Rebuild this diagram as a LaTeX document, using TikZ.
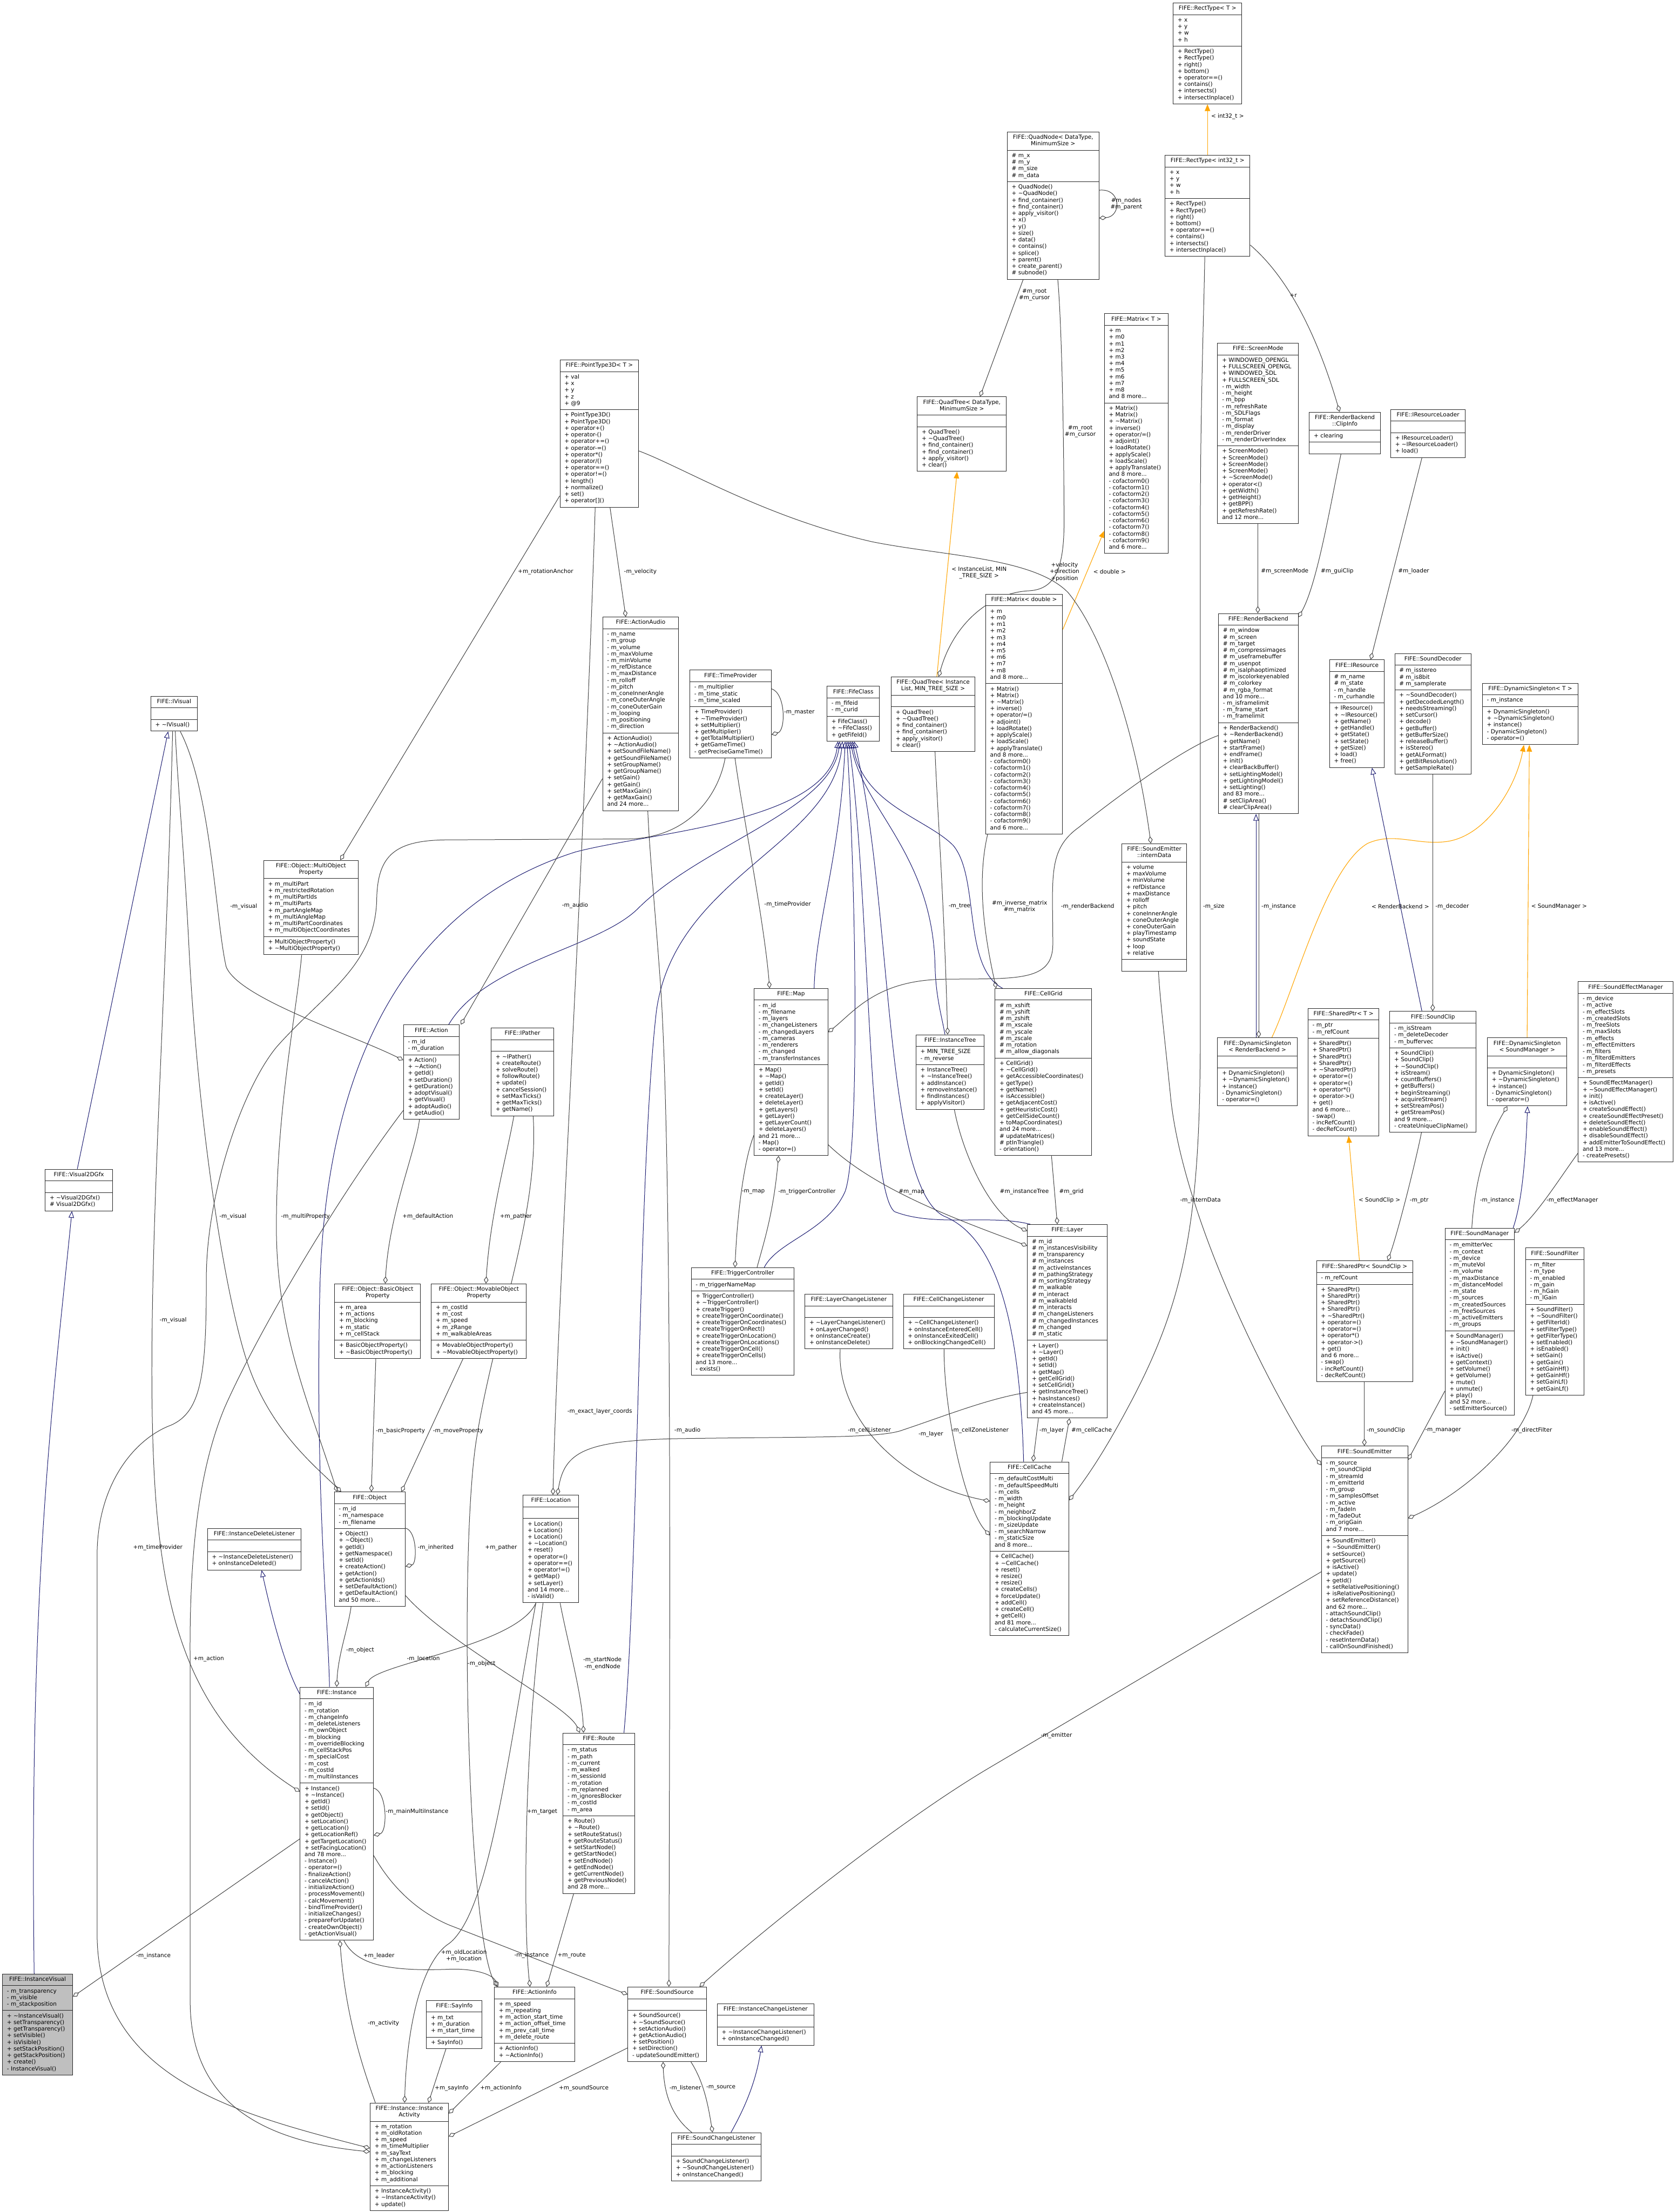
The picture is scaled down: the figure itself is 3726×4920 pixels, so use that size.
\documentclass[tikz,border=0pt]{standalone}
\usepackage{fontspec}
\setmainfont{DejaVu Sans}
\usetikzlibrary{shapes.multipart,arrows.meta}
\definecolor{egray}{HTML}{404040}
\definecolor{mblue}{HTML}{191970}
\definecolor{torange}{HTML}{FFA500}
\definecolor{ivfill}{HTML}{BFBFBF}
\setlength\parindent{0pt}
\newcommand\fs{\fontsize{12.6}{14.7}\selectfont}
\newcommand\dtor{\textasciitilde}
\newcommand\twol[2]{\begin{tabular}{@{}c@{}}#1\\#2\end{tabular}}
\pgfdeclarelayer{bg}
\pgfsetlayers{bg,main}
\tikzset{
  umlbox/.style={draw=black!85, line width=1.2pt, fill=white, rectangle split, rectangle split parts=3,
    rectangle split part align={center,left,left}, align=left, anchor=north west,
    inner xsep=10pt, inner ysep=5pt, font=\fs},
  memb/.style={draw=egray, line width=1.2pt, arrows={Diamond[open,length=16pt,width=10pt]-}},
  inh/.style={draw=mblue, line width=1.2pt, arrows={Triangle[open,length=15pt,width=12pt]-}},
  tmpl/.style={draw=torange, line width=1.3pt, arrows={Triangle[length=15pt,width=12pt]-}},
  lbl/.style={font=\fs, align=center, inner sep=0pt}
}
\newcommand\umlclass[8][]{\node[umlbox,#1,minimum width=#5pt] (#2) at (#3,#4) {\strut#6\strut\nodepart{two}\strut#7\strut\nodepart{three}\strut#8\strut};}
\begin{document}
\begin{tikzpicture}[x=1pt,y=-1pt]
\useasboundingbox (0,0) rectangle (3726,4920);
\begin{pgfonlayer}{bg}\fill[white] (0,0) rectangle (3726,4920);\end{pgfonlayer}

% ---------------- classes ----------------
\umlclass{rectT}{2609}{6}{153}{FIFE::RectType< T >}{+ x\\+ y\\+ w\\+ h}{+ RectType()\\+ RectType()\\+ right()\\+ bottom()\\+ operator==()\\+ contains()\\+ intersects()\\+ intersectInplace()}
\umlclass{rectI}{2591}{345}{189}{FIFE::RectType< int32\_t >}{+ x\\+ y\\+ w\\+ h}{+ RectType()\\+ RectType()\\+ right()\\+ bottom()\\+ operator==()\\+ contains()\\+ intersects()\\+ intersectInplace()}
\umlclass{quadnode}{2240}{293}{204}{\twol{FIFE::QuadNode< DataType,}{MinimumSize >}}{\# m\_x\\\# m\_y\\\# m\_size\\\# m\_data}{+ QuadNode()\\+ \dtor QuadNode()\\+ find\_container()\\+ find\_container()\\+ apply\_visitor()\\+ x()\\+ y()\\+ size()\\+ data()\\+ contains()\\+ splice()\\+ parent()\\+ create\_parent()\\\# subnode()}
\umlclass{matT}{2456}{697}{142}{FIFE::Matrix< T >}{+ m\\+ m0\\+ m1\\+ m2\\+ m3\\+ m4\\+ m5\\+ m6\\+ m7\\+ m8\\and 8 more...}{+ Matrix()\\+ Matrix()\\+ \dtor Matrix()\\+ inverse()\\+ operator/=()\\+ adjoint()\\+ loadRotate()\\+ applyScale()\\+ loadScale()\\+ applyTranslate()\\and 8 more...\\- cofactorm0()\\- cofactorm1()\\- cofactorm2()\\- cofactorm3()\\- cofactorm4()\\- cofactorm5()\\- cofactorm6()\\- cofactorm7()\\- cofactorm8()\\- cofactorm9()\\and 6 more...}
\umlclass{screen}{2708}{763}{180}{FIFE::ScreenMode}{+ WINDOWED\_OPENGL\\+ FULLSCREEN\_OPENGL\\+ WINDOWED\_SDL\\+ FULLSCREEN\_SDL\\- m\_width\\- m\_height\\- m\_bpp\\- m\_refreshRate\\- m\_SDLFlags\\- m\_format\\- m\_display\\- m\_renderDriver\\- m\_renderDriverIndex}{+ ScreenMode()\\+ ScreenMode()\\+ ScreenMode()\\+ ScreenMode()\\+ \dtor ScreenMode()\\+ operator<()\\+ getWidth()\\+ getHeight()\\+ getBPP()\\+ getRefreshRate()\\and 12 more...}
\umlclass{clip}{2912}{916}{158}{\twol{FIFE::RenderBackend}{::ClipInfo}}{+ clearing}{}
\umlclass{resloader}{3093}{910}{166}{FIFE::IResourceLoader}{}{+ IResourceLoader()\\+ \dtor IResourceLoader()\\+ load()}
\umlclass{rb}{2710}{1364}{177}{FIFE::RenderBackend}{\# m\_window\\\# m\_screen\\\# m\_target\\\# m\_compressimages\\\# m\_useframebuffer\\\# m\_usenpot\\\# m\_isalphaoptimized\\\# m\_iscolorkeyenabled\\\# m\_colorkey\\\# m\_rgba\_format\\and 10 more...\\- m\_isframelimit\\- m\_frame\_start\\- m\_framelimit}{+ RenderBackend()\\+ \dtor RenderBackend()\\+ getName()\\+ startFrame()\\+ endFrame()\\+ init()\\+ clearBackBuffer()\\+ setLightingModel()\\+ getLightingModel()\\+ setLighting()\\and 83 more...\\\# setClipArea()\\\# clearClipArea()}
\umlclass{ires}{2957}{1467}{122}{FIFE::IResource}{\# m\_name\\\# m\_state\\- m\_handle\\- m\_curhandle}{+ IResource()\\+ \dtor IResource()\\+ getName()\\+ getHandle()\\+ getState()\\+ setState()\\+ getSize()\\+ load()\\+ free()}
\umlclass{sdec}{3102}{1453}{170}{FIFE::SoundDecoder}{\# m\_isstereo\\\# m\_is8bit\\\# m\_samplerate}{+ \dtor SoundDecoder()\\+ getDecodedLength()\\+ needsStreaming()\\+ setCursor()\\+ decode()\\+ getBuffer()\\+ getBufferSize()\\+ releaseBuffer()\\+ isStereo()\\+ getALFormat()\\+ getBitResolution()\\+ getSampleRate()}
\umlclass{dsT}{3297}{1519}{213}{FIFE::DynamicSingleton< T >}{- m\_instance}{+ DynamicSingleton()\\+ \dtor DynamicSingleton()\\+ instance()\\- DynamicSingleton()\\- operator=()}
\umlclass{sptrT}{2909}{2242}{158}{FIFE::SharedPtr< T >}{- m\_ptr\\- m\_refCount}{+ SharedPtr()\\+ SharedPtr()\\+ SharedPtr()\\+ SharedPtr()\\+ \dtor SharedPtr()\\+ operator=()\\+ operator=()\\+ operator*()\\+ operator->()\\+ get()\\and 6 more...\\- swap()\\- incRefCount()\\- decRefCount()}
\umlclass{sclip}{3091}{2249}{192}{FIFE::SoundClip}{- m\_isStream\\- m\_deleteDecoder\\- m\_buffervec}{+ SoundClip()\\+ SoundClip()\\+ \dtor SoundClip()\\+ isStream()\\+ countBuffers()\\+ getBuffers()\\+ beginStreaming()\\+ acquireStream()\\+ setStreamPos()\\+ getStreamPos()\\and 9 more...\\- createUniqueClipName()}
\umlclass{dsSM}{3308}{2308}{177}{\twol{FIFE::DynamicSingleton}{< SoundManager >}}{}{+ DynamicSingleton()\\+ \dtor DynamicSingleton()\\+ instance()\\- DynamicSingleton()\\- operator=()}
\umlclass{dsRB}{2708}{2308}{177}{\twol{FIFE::DynamicSingleton}{< RenderBackend >}}{}{+ DynamicSingleton()\\+ \dtor DynamicSingleton()\\+ instance()\\- DynamicSingleton()\\- operator=()}
\umlclass{sem}{3510}{2183}{211}{FIFE::SoundEffectManager}{- m\_device\\- m\_active\\- m\_effectSlots\\- m\_createdSlots\\- m\_freeSlots\\- m\_maxSlots\\- m\_effects\\- m\_effectEmitters\\- m\_filters\\- m\_filterdEmitters\\- m\_filterdEffects\\- m\_presets}{+ SoundEffectManager()\\+ \dtor SoundEffectManager()\\+ init()\\+ isActive()\\+ createSoundEffect()\\+ createSoundEffectPreset()\\+ deleteSoundEffect()\\+ enableSoundEffect()\\+ disableSoundEffect()\\+ addEmitterToSoundEffect()\\and 13 more...\\- createPresets()}
\umlclass{pt3d}{1245}{800}{175}{FIFE::PointType3D< T >}{+ val\\+ x\\+ y\\+ z\\+ @9}{+ PointType3D()\\+ PointType3D()\\+ operator+()\\+ operator-()\\+ operator+=()\\+ operator-=()\\+ operator*()\\+ operator/()\\+ operator==()\\+ operator!=()\\+ length()\\+ normalize()\\+ set()\\+ operator[]()}
\umlclass{aaudio}{1340}{1372}{169}{FIFE::ActionAudio}{- m\_name\\- m\_group\\- m\_volume\\- m\_maxVolume\\- m\_minVolume\\- m\_refDistance\\- m\_maxDistance\\- m\_rolloff\\- m\_pitch\\- m\_coneInnerAngle\\- m\_coneOuterAngle\\- m\_coneOuterGain\\- m\_looping\\- m\_positioning\\- m\_direction}{+ ActionAudio()\\+ \dtor ActionAudio()\\+ setSoundFileName()\\+ getSoundFileName()\\+ setGroupName()\\+ getGroupName()\\+ setGain()\\+ getGain()\\+ setMaxGain()\\+ getMaxGain()\\and 24 more...}
\umlclass{tprov}{1534}{1490}{181}{FIFE::TimeProvider}{- m\_multiplier\\- m\_time\_static\\- m\_time\_scaled}{+ TimeProvider()\\+ \dtor TimeProvider()\\+ setMultiplier()\\+ getMultiplier()\\+ getTotalMultiplier()\\+ getGameTime()\\- getPreciseGameTime()}
\umlclass{fife}{1839}{1526}{117}{FIFE::FifeClass}{- m\_fifeid\\- m\_curid}{+ FifeClass()\\+ \dtor FifeClass()\\+ getFifeId()}
\umlclass{qtDT}{2040}{882}{198}{\twol{FIFE::QuadTree< DataType,}{MinimumSize >}}{}{+ QuadTree()\\+ \dtor QuadTree()\\+ find\_container()\\+ find\_container()\\+ apply\_visitor()\\+ clear()}
\umlclass{qtIL}{1982}{1505}{186}{\twol{FIFE::QuadTree< Instance}{List, MIN\_TREE\_SIZE >}}{}{+ QuadTree()\\+ \dtor QuadTree()\\+ find\_container()\\+ find\_container()\\+ apply\_visitor()\\+ clear()}
\umlclass{matD}{2192}{1321}{171}{FIFE::Matrix< double >}{+ m\\+ m0\\+ m1\\+ m2\\+ m3\\+ m4\\+ m5\\+ m6\\+ m7\\+ m8\\and 8 more...}{+ Matrix()\\+ Matrix()\\+ \dtor Matrix()\\+ inverse()\\+ operator/=()\\+ adjoint()\\+ loadRotate()\\+ applyScale()\\+ loadScale()\\+ applyTranslate()\\and 8 more...\\- cofactorm0()\\- cofactorm1()\\- cofactorm2()\\- cofactorm3()\\- cofactorm4()\\- cofactorm5()\\- cofactorm6()\\- cofactorm7()\\- cofactorm8()\\- cofactorm9()\\and 6 more...}
\umlclass{idata}{2495}{1876}{144}{\twol{FIFE::SoundEmitter}{::internData}}{+ volume\\+ maxVolume\\+ minVolume\\+ refDistance\\+ maxDistance\\+ rolloff\\+ pitch\\+ coneInnerAngle\\+ coneOuterAngle\\+ coneOuterGain\\+ playTimestamp\\+ soundState\\+ loop\\+ relative}{}
\umlclass{map}{1677}{2198}{164}{FIFE::Map}{- m\_id\\- m\_filename\\- m\_layers\\- m\_changeListeners\\- m\_changedLayers\\- m\_cameras\\- m\_renderers\\- m\_changed\\- m\_transferInstances}{+ Map()\\+ \dtor Map()\\+ getId()\\+ setId()\\+ createLayer()\\+ deleteLayer()\\+ getLayers()\\+ getLayer()\\+ getLayerCount()\\+ deleteLayers()\\and 21 more...\\- Map()\\- operator=()}
\umlclass{itree}{2037}{2301}{152}{FIFE::InstanceTree}{+ MIN\_TREE\_SIZE\\- m\_reverse}{+ InstanceTree()\\+ \dtor InstanceTree()\\+ addInstance()\\+ removeInstance()\\+ findInstances()\\+ applyVisitor()}
\umlclass{cgrid}{2213}{2198}{215}{FIFE::CellGrid}{\# m\_xshift\\\# m\_yshift\\\# m\_zshift\\\# m\_xscale\\\# m\_yscale\\\# m\_zscale\\\# m\_rotation\\\# m\_allow\_diagonals}{+ CellGrid()\\+ \dtor CellGrid()\\+ getAccessibleCoordinates()\\+ getType()\\+ getName()\\+ isAccessible()\\+ getAdjacentCost()\\+ getHeuristicCost()\\+ getCellSideCount()\\+ toMapCoordinates()\\and 24 more...\\\# updateMatrices()\\\# ptInTriangle()\\- orientation()}
\umlclass{tctrl}{1537}{2819}{229}{FIFE::TriggerController}{- m\_triggerNameMap}{+ TriggerController()\\+ \dtor TriggerController()\\+ createTrigger()\\+ createTriggerOnCoordinate()\\+ createTriggerOnCoordinates()\\+ createTriggerOnRect()\\+ createTriggerOnLocation()\\+ createTriggerOnLocations()\\+ createTriggerOnCell()\\+ createTriggerOnCells()\\and 13 more...\\- exists()}
\umlclass{lcl}{1790}{2878}{195}{FIFE::LayerChangeListener}{}{+ \dtor LayerChangeListener()\\+ onLayerChanged()\\+ onInstanceCreate()\\+ onInstanceDelete()}
\umlclass{ccl}{2009}{2878}{202}{FIFE::CellChangeListener}{}{+ \dtor CellChangeListener()\\+ onInstanceEnteredCell()\\+ onInstanceExitedCell()\\+ onBlockingChangedCell()}
\umlclass{layer}{2285}{2723}{177}{FIFE::Layer}{\# m\_id\\\# m\_instancesVisibility\\\# m\_transparency\\\# m\_instances\\\# m\_activeInstances\\\# m\_pathingStrategy\\\# m\_sortingStrategy\\\# m\_walkable\\\# m\_interact\\\# m\_walkableId\\\# m\_interacts\\\# m\_changeListeners\\\# m\_changedInstances\\\# m\_changed\\\# m\_static}{+ Layer()\\+ \dtor Layer()\\+ getId()\\+ setId()\\+ getMap()\\+ getCellGrid()\\+ setCellGrid()\\+ getInstanceTree()\\+ hasInstances()\\+ createInstance()\\and 45 more...}
\umlclass{sptrS}{2928}{2804}{214}{FIFE::SharedPtr< SoundClip >}{- m\_refCount}{+ SharedPtr()\\+ SharedPtr()\\+ SharedPtr()\\+ SharedPtr()\\+ \dtor SharedPtr()\\+ operator=()\\+ operator=()\\+ operator*()\\+ operator->()\\+ get()\\and 6 more...\\- swap()\\- incRefCount()\\- decRefCount()}
\umlclass{smgr}{3214}{2731}{154}{FIFE::SoundManager}{- m\_emitterVec\\- m\_context\\- m\_device\\- m\_muteVol\\- m\_volume\\- m\_maxDistance\\- m\_distanceModel\\- m\_state\\- m\_sources\\- m\_createdSources\\- m\_freeSources\\- m\_activeEmitters\\- m\_groups}{+ SoundManager()\\+ \dtor SoundManager()\\+ init()\\+ isActive()\\+ getContext()\\+ setVolume()\\+ getVolume()\\+ mute()\\+ unmute()\\+ play()\\and 52 more...\\- setEmitterSource()}
\umlclass{sfilt}{3393}{2775}{130}{FIFE::SoundFilter}{- m\_filter\\- m\_type\\- m\_enabled\\- m\_gain\\- m\_hGain\\- m\_lGain}{+ SoundFilter()\\+ \dtor SoundFilter()\\+ getFilterId()\\+ setFilterType()\\+ getFilterType()\\+ setEnabled()\\+ isEnabled()\\+ setGain()\\+ getGain()\\+ setGainHf()\\+ getGainHf()\\+ setGainLf()\\+ getGainLf()}
\umlclass{semit}{2939}{3216}{192}{FIFE::SoundEmitter}{- m\_source\\- m\_soundClipId\\- m\_streamId\\- m\_emitterId\\- m\_group\\- m\_samplesOffset\\- m\_active\\- m\_fadeIn\\- m\_fadeOut\\- m\_origGain\\and 7 more...}{+ SoundEmitter()\\+ \dtor SoundEmitter()\\+ setSource()\\+ getSource()\\+ isActive()\\+ update()\\+ getId()\\+ setRelativePositioning()\\+ isRelativePositioning()\\+ setReferenceDistance()\\and 62 more...\\- attachSoundClip()\\- detachSoundClip()\\- syncData()\\- checkFade()\\- resetInternData()\\- callOnSoundFinished()}
\umlclass{ivis}{335}{1548}{103}{FIFE::IVisual}{}{+ \dtor IVisual()}
\umlclass{v2d}{100}{2600}{150}{FIFE::Visual2DGfx}{}{+ \dtor Visual2DGfx()\\\# Visual2DGfx()}
\umlclass{mop}{586}{1913}{210}{\twol{FIFE::Object::MultiObject}{Property}}{+ m\_multiPart\\+ m\_restrictedRotation\\+ m\_multiPartIds\\+ m\_multiParts\\+ m\_partAngleMap\\+ m\_multiAngleMap\\+ m\_multiPartCoordinates\\+ m\_multiObjectCoordinates}{+ MultiObjectProperty()\\+ \dtor MultiObjectProperty()}
\umlclass{action}{897}{2279}{124}{FIFE::Action}{- m\_id\\- m\_duration}{+ Action()\\+ \dtor Action()\\+ getId()\\+ setDuration()\\+ getDuration()\\+ adoptVisual()\\+ getVisual()\\+ adoptAudio()\\+ getAudio()}
\umlclass{ipather}{1092}{2286}{139}{FIFE::IPather}{}{+ \dtor IPather()\\+ createRoute()\\+ solveRoute()\\+ followRoute()\\+ update()\\+ cancelSession()\\+ setMaxTicks()\\+ getMaxTicks()\\+ getName()}
\umlclass{bop}{744}{2855}{191}{\twol{FIFE::Object::BasicObject}{Property}}{+ m\_area\\+ m\_actions\\+ m\_blocking\\+ m\_static\\+ m\_cellStack}{+ BasicObjectProperty()\\+ \dtor BasicObjectProperty()}
\umlclass{movop}{959}{2855}{211}{\twol{FIFE::Object::MovableObject}{Property}}{+ m\_costId\\+ m\_cost\\+ m\_speed\\+ m\_zRange\\+ m\_walkableAreas}{+ MovableObjectProperty()\\+ \dtor MovableObjectProperty()}
\umlclass{object}{743}{3318}{158}{FIFE::Object}{- m\_id\\- m\_namespace\\- m\_filename}{+ Object()\\+ \dtor Object()\\+ getId()\\+ getNamespace()\\+ setId()\\+ createAction()\\+ getAction()\\+ getActionIds()\\+ setDefaultAction()\\+ getDefaultAction()\\and 50 more...}
\umlclass{location}{1163}{3325}{124}{FIFE::Location}{}{+ Location()\\+ Location()\\+ Location()\\+ \dtor Location()\\+ reset()\\+ operator=()\\+ operator==()\\+ operator!=()\\+ getMap()\\+ setLayer()\\and 14 more...\\- isValid()}
\umlclass{idl}{461}{3399}{208}{FIFE::InstanceDeleteListener}{}{+ \dtor InstanceDeleteListener()\\+ onInstanceDeleted()}
\umlclass{inst}{667}{3752}{163}{FIFE::Instance}{- m\_id\\- m\_rotation\\- m\_changeInfo\\- m\_deleteListeners\\- m\_ownObject\\- m\_blocking\\- m\_overrideBlocking\\- m\_cellStackPos\\- m\_specialCost\\- m\_cost\\- m\_costId\\- m\_multiInstances}{+ Instance()\\+ \dtor Instance()\\+ getId()\\+ setId()\\+ getObject()\\+ setLocation()\\+ getLocation()\\+ getLocationRef()\\+ getTargetLocation()\\+ setFacingLocation()\\and 78 more...\\- Instance()\\- operator=()\\- finalizeAction()\\- cancelAction()\\- initializeAction()\\- processMovement()\\- calcMovement()\\- bindTimeProvider()\\- initializeChanges()\\- prepareForUpdate()\\- createOwnObject()\\- getActionVisual()}
\umlclass[fill=ivfill]{ivisu}{5}{4390}{156}{FIFE::InstanceVisual}{- m\_transparency\\- m\_visible\\- m\_stackposition}{+ \dtor InstanceVisual()\\+ setTransparency()\\+ getTransparency()\\+ setVisible()\\+ isVisible()\\+ setStackPosition()\\+ getStackPosition()\\+ create()\\- InstanceVisual()}
\umlclass{iact}{823}{4677}{174}{\twol{FIFE::Instance::Instance}{Activity}}{+ m\_rotation\\+ m\_oldRotation\\+ m\_speed\\+ m\_timeMultiplier\\+ m\_sayText\\+ m\_changeListeners\\+ m\_actionListeners\\+ m\_blocking\\+ m\_additional}{+ InstanceActivity()\\+ \dtor InstanceActivity()\\+ update()}
\umlclass{say}{948}{4449}{124}{FIFE::SayInfo}{+ m\_txt\\+ m\_duration\\+ m\_start\_time}{+ SayInfo()}
\umlclass{ainfo}{1099}{4419}{179}{FIFE::ActionInfo}{+ m\_speed\\+ m\_repeating\\+ m\_action\_start\_time\\+ m\_action\_offset\_time\\+ m\_prev\_call\_time\\+ m\_delete\_route}{+ ActionInfo()\\+ \dtor ActionInfo()}
\umlclass{route}{1252}{3854}{159}{FIFE::Route}{- m\_status\\- m\_path\\- m\_current\\- m\_walked\\- m\_sessionId\\- m\_rotation\\- m\_replanned\\- m\_ignoresBlocker\\- m\_costId\\- m\_area}{+ Route()\\+ \dtor Route()\\+ setRouteStatus()\\+ getRouteStatus()\\+ setStartNode()\\+ getStartNode()\\+ setEndNode()\\+ getEndNode()\\+ getCurrentNode()\\+ getPreviousNode()\\and 28 more...}
\umlclass{ssrc}{1396}{4419}{175}{FIFE::SoundSource}{}{+ SoundSource()\\+ \dtor SoundSource()\\+ setActionAudio()\\+ getActionAudio()\\+ setPosition()\\+ setDirection()\\- updateSoundEmitter()}
\umlclass{icl}{1595}{4456}{215}{FIFE::InstanceChangeListener}{}{+ \dtor InstanceChangeListener()\\+ onInstanceChanged()}
\umlclass{scl}{1493}{4743}{200}{FIFE::SoundChangeListener}{}{+ SoundChangeListener()\\+ \dtor SoundChangeListener()\\+ onInstanceChanged()}
\umlclass{ccache}{2202}{3251}{175}{FIFE::CellCache}{- m\_defaultCostMulti\\- m\_defaultSpeedMulti\\- m\_cells\\- m\_width\\- m\_height\\- m\_neighborZ\\- m\_blockingUpdate\\- m\_sizeUpdate\\- m\_searchNarrow\\- m\_staticSize\\and 8 more...}{+ CellCache()\\+ \dtor CellCache()\\+ reset()\\+ resize()\\+ resize()\\+ createCells()\\+ forceUpdate()\\+ addCell()\\+ createCell()\\+ getCell()\\and 81 more...\\- calculateCurrentSize()}

% ---------------- connectors ----------------
\begin{pgfonlayer}{bg}
% template instantiations
\draw[tmpl] (rectT.south -| 2686,0) -- (rectI.north -| 2686,0);
\draw[tmpl] (qtDT.south -| 2129,0) -- (qtIL.north -| 2084,0);
\draw[tmpl] (matT.west |- 0,1181) -- (matD.east |- 0,1400);
\draw[tmpl] (dsT.south -| 3390,0) .. controls (3370,1760) and (3300,1862) .. (3216,1872) .. controls (3150,1880) and (3100,1850) .. (3042,1876) .. controls (2950,1930) and (2880,2200) .. (dsRB.north -| 2829,0);
\draw[tmpl] (dsT.south -| 3402,0) -- (dsSM.north -| 3397,0);
\draw[tmpl] (sptrT.south -| 3000,0) -- (sptrS.north -| 3024,0);
% inheritance
\draw[inh] (ivis.south -| 374,0) -- (v2d.north -| 172,0);
\draw[inh] (v2d.south -| 160,0) .. controls (120,3100) and (64,3500) .. (ivisu.north -| 76,0);
\draw[inh] (ires.south -| 3052,0) -- (sclip.north -| 3163,0);
\draw[inh] (rb.south -| 2794,0) -- (dsRB.north -| 2794,0);
\draw[inh] (dsSM.south -| 3398,0) .. controls (3392,2620) and (3380,2690) .. (smgr.north -| 3366,0);
\draw[inh] (idl.south -| 582,0) .. controls (610,3620) and (640,3720) .. (inst.west |- 0,3768);
\draw[inh] (icl.south -| 1694,0) .. controls (1680,4640) and (1650,4700) .. (scl.north -| 1626,0);
\draw[inh] (fife.south -| 1868,0) .. controls (1850,1800) and (1560,1880) .. (1420,2020) .. controls (1330,2110) and (1080,2140) .. (action.north -| 998,0);
\draw[inh] (fife.south -| 1864,0) .. controls (1840,1830) and (1450,1850) .. (1280,1895) .. controls (950,2000) and (730,2300) .. (712,2850) .. controls (700,3300) and (730,3600) .. (inst.north -| 733,0);
\draw[inh] (fife.south -| 1874,0) .. controls (1850,1880) and (1500,1950) .. (1460,2250) .. controls (1420,2600) and (1420,3500) .. (route.north -| 1388,0);
\draw[inh] (fife.south -| 1880,0) .. controls (1870,1900) and (1815,2050) .. (map.north -| 1811,0);
\draw[inh] (fife.south -| 1884,0) .. controls (1905,2000) and (1912,2560) .. (1880,2650) .. controls (1840,2740) and (1730,2760) .. (tctrl.north -| 1700,0);
\draw[inh] (fife.south -| 1888,0) .. controls (1935,2000) and (1930,2650) .. (1990,2695) .. controls (2080,2730) and (2200,2700) .. (layer.north -| 2292,0);
\draw[inh] (fife.south -| 1892,0) .. controls (1920,1800) and (2075,1900) .. (2080,2150) .. controls (2082,2220) and (2095,2260) .. (itree.north -| 2102,0);
\draw[inh] (fife.south -| 1896,0) .. controls (1920,1790) and (2060,1820) .. (2120,1880) .. controls (2180,1950) and (2140,2150) .. (cgrid.north -| 2230,0);
\draw[inh] (fife.south -| 1900,0) .. controls (1985,2000) and (1965,2640) .. (2100,2705) .. controls (2235,2760) and (2270,3000) .. (ccache.north -| 2277,0);
% members
\draw[memb] (quadnode.east |- 0,485) .. controls (2495,482) and (2495,418) .. (quadnode.east |- 0,423);
\draw[memb] (qtDT.north -| 2180,0) -- (quadnode.south -| 2276,0);
\draw[memb] (qtIL.north -| 2088,0) .. controls (2120,1390) and (2200,1318) .. (2290,1314) .. controls (2350,1310) and (2368,1260) .. (2367,1150) .. controls (2366,900) and (2360,700) .. (quadnode.south -| 2353,0);
\draw[memb] (rb.north -| 2798,0) -- (screen.south -| 2798,0);
\draw[memb] (rb.east |- 0,1373) .. controls (2930,1300) and (2960,1120) .. (clip.south -| 2983,0);
\draw[memb] (clip.north -| 2980,0) .. controls (2940,780) and (2880,630) .. (rectI.east |- 0,545);
\draw[memb] (ires.north -| 3049,0) -- (resloader.south -| 3163,0);
\draw[memb] (sclip.north -| 3187,0) -- (sdec.south -| 3187,0);
\draw[memb] (aaudio.north -| 1392,0) -- (pt3d.south -| 1357,0);
\draw[memb] (idata.north -| 2560,0) .. controls (2530,1650) and (2460,1420) .. (2376,1318) .. controls (2300,1240) and (2100,1237) .. (1940,1205) .. controls (1700,1150) and (1520,1040) .. (pt3d.east |- 0,1003);
\draw[memb] (mop.north -| 757,0) -- (pt3d.west |- 0,1103);
\draw[memb] (tprov.east |- 0,1634) .. controls (1748,1625) and (1748,1542) .. (tprov.east |- 0,1532);
\draw[memb] (ccache.east |- 0,3337) .. controls (2430,3270) and (2470,3205) .. (2520,3110) .. controls (2640,2880) and (2670,2700) .. (2670,2300) -- (2670,1200) .. controls (2670,900) and (2678,700) .. (rectI.south -| 2680,0);
\draw[memb] (dsRB.north -| 2800,0) -- (rb.south -| 2800,0);
\draw[memb] (action.west |- 0,2358) .. controls (780,2300) and (530,2220) .. (503,2150) .. controls (480,2050) and (470,1760) .. (ivis.south -| 401,0);
\draw[memb] (action.north -| 1025,0) -- (aaudio.west |- 0,1732);
\draw[memb] (ssrc.north -| 1488,0) .. controls (1490,3600) and (1495,2600) .. (1470,2200) .. controls (1458,2030) and (1445,1900) .. (aaudio.south -| 1441,0);
\draw[memb] (map.north -| 1712,0) .. controls (1700,2050) and (1650,1800) .. (tprov.south -| 1635,0);
\draw[memb] (itree.north -| 2108,0) .. controls (2100,2000) and (2085,1800) .. (qtIL.south -| 2080,0);
\draw[memb] (cgrid.north -| 2216,0) .. controls (2185,2060) and (2175,1950) .. (matD.south -| 2197,0);
\draw[memb] (map.east |- 0,2296) .. controls (1900,2250) and (1950,2180) .. (2100,2178) .. controls (2260,2176) and (2342,2185) .. (2342,2100) .. controls (2342,1950) and (2330,1890) .. (2400,1840) .. controls (2500,1760) and (2640,1660) .. (rb.west |- 0,1636);
\draw[memb] (semit.west |- 0,3259) .. controls (2870,3170) and (2640,2750) .. (2605,2450) .. controls (2590,2300) and (2580,2220) .. (idata.south -| 2577,0);
\draw[memb] (sptrS.north -| 3087,0) .. controls (3110,2740) and (3150,2580) .. (sclip.south -| 3162,0);
\draw[memb] (dsSM.south -| 3353,0) .. controls (3300,2550) and (3280,2640) .. (smgr.north -| 3274,0);
\draw[memb] (smgr.east |- 0,2742) .. controls (3420,2700) and (3470,2620) .. (sem.west |- 0,2565);
\draw[memb] (semit.north -| 3035,0) -- (sptrS.south -| 3035,0);
\draw[memb] (semit.east |- 0,3247) -- (smgr.west |- 0,3094);
\draw[memb] (semit.east |- 0,3377) .. controls (3260,3320) and (3390,3200) .. (sfilt.south -| 3410,0);
\draw[memb] (ssrc.north -| 1556,0) .. controls (1700,4290) and (2000,4050) .. (2204,3930) -- (semit.west |- 0,3496);
\draw[memb] (tctrl.north -| 1635,0) .. controls (1640,2700) and (1655,2580) .. (map.west |- 0,2525);
\draw[memb] (map.south -| 1732,0) .. controls (1720,2700) and (1700,2760) .. (tctrl.north -| 1684,0);
\draw[memb] (layer.west |- 0,2771) .. controls (2150,2720) and (1950,2650) .. (map.east |- 0,2546);
\draw[memb] (layer.west |- 0,2738) .. controls (2200,2700) and (2140,2560) .. (itree.south -| 2123,0);
\draw[memb] (layer.north -| 2352,0) -- (cgrid.south -| 2339,0);
\draw[memb] (ccache.north -| 2298,0) -- (layer.south -| 2310,0);
\draw[memb] (layer.south -| 2379,0) -- (ccache.north -| 2362,0);
\draw[memb] (ccache.west |- 0,3339) .. controls (2000,3300) and (1860,3150) .. (lcl.south -| 1869,0);
\draw[memb] (ccache.west |- 0,3415) .. controls (2150,3360) and (2100,3150) .. (ccl.south -| 2100,0);
\draw[memb] (location.north -| 1240,0) .. controls (1255,3230) and (1300,3205) .. (1500,3200) .. controls (1800,3195) and (1960,3200) .. (2010,3180) .. controls (2100,3150) and (2200,3110) .. (layer.west |- 0,3097);
\draw[memb] (object.north -| 826,0) -- (bop.south -| 836,0);
\draw[memb] (object.north -| 893,0) -- (movop.south -| 1030,0);
\draw[memb] (object.east |- 0,3484) .. controls (928,3478) and (928,3405) .. (object.east |- 0,3399);
\draw[memb] (object.north -| 750,0) .. controls (680,3100) and (610,2950) .. (615,2700) .. controls (618,2450) and (660,2250) .. (mop.south -| 671,0);
\draw[memb] (object.north -| 759,0) .. controls (700,3260) and (600,3180) .. (550,3030) .. controls (500,2880) and (440,2500) .. (420,2100) .. controls (410,1900) and (392,1700) .. (ivis.south -| 390,0);
\draw[memb] (movop.north -| 1081,0) .. controls (1090,2700) and (1130,2560) .. (ipather.south -| 1143,0);
\draw[memb] (bop.north -| 857,0) .. controls (865,2700) and (925,2560) .. (action.south -| 933,0);
\draw[memb] (location.north -| 1230,0) .. controls (1240,2900) and (1300,1900) .. (pt3d.south -| 1324,0);
\draw[memb] (inst.west |- 0,3985) .. controls (380,3800) and (342,3500) .. (338,3100) .. controls (335,2700) and (370,2200) .. (ivis.south -| 384,0);
\draw[memb] (inst.north -| 749,0) .. controls (752,3680) and (775,3620) .. (object.south -| 781,0);
\draw[memb] (inst.north -| 813,0) .. controls (840,3700) and (1150,3660) .. (location.south -| 1192,0);
\draw[memb] (route.north -| 1290,0) .. controls (1260,3790) and (1000,3660) .. (object.east |- 0,3549);
\draw[memb] (route.north -| 1298,0) .. controls (1295,3770) and (1262,3650) .. (location.south -| 1246,0);
\draw[memb] (inst.east |- 0,4082) .. controls (862,4075) and (862,3985) .. (inst.east |- 0,3977);
\draw[memb] (ivisu.east |- 0,4441) -- (inst.west |- 0,4090);
\draw[memb] (inst.south -| 756,0) .. controls (770,4500) and (815,4620) .. (iact.north -| 835,0);
\draw[memb] (ainfo.north -| 1108,0) .. controls (1095,4390) and (1050,4378) .. (1000,4380) .. controls (850,4386) and (790,4365) .. (inst.south -| 765,0);
\draw[memb] (ssrc.west |- 0,4436) .. controls (1300,4400) and (1150,4340) .. (1000,4282) .. controls (900,4240) and (850,4160) .. (inst.east |- 0,4127);
\draw[memb] (ainfo.north -| 1179,0) .. controls (1165,4300) and (1163,3900) .. (location.south -| 1208,0);
\draw[memb] (iact.north -| 900,0) .. controls (905,4500) and (940,4360) .. (1000,4322) .. controls (1090,4250) and (1130,3900) .. (location.south -| 1192,0);
\draw[memb] (ainfo.north -| 1106,0) .. controls (1040,4300) and (1020,3450) .. (1060,3200) .. controls (1100,2950) and (1200,2700) .. (ipather.south -| 1186,0);
\draw[memb] (iact.west |- 0,4778) .. controls (520,4700) and (216,4620) .. (216,4300) -- (216,3460) .. controls (216,3300) and (300,3200) .. (380,3170) .. controls (450,3140) and (459,3050) .. (459,2840) .. controls (460,2650) and (540,2420) .. (615,2329) .. controls (720,2210) and (835,2150) .. (838,2000) .. controls (840,1900) and (880,1868) .. (1000,1868) -- (1400,1866) .. controls (1540,1862) and (1600,1760) .. (tprov.south -| 1613,0);
\draw[memb] (iact.west |- 0,4786) .. controls (560,4760) and (423,4660) .. (423,4450) -- (423,3700) .. controls (420,3420) and (450,3250) .. (500,3130) .. controls (580,2950) and (760,2650) .. (action.west |- 0,2470);
\draw[memb] (iact.north -| 953,0) -- (say.south -| 992,0);
\draw[memb] (iact.east |- 0,4701) -- (ainfo.south -| 1114,0);
\draw[memb] (iact.east |- 0,4752) -- (ssrc.west |- 0,4555);
\draw[memb] (ssrc.south -| 1475,0) .. controls (1478,4680) and (1510,4720) .. (scl.north -| 1539,0);
\draw[memb] (scl.north -| 1585,0) .. controls (1575,4680) and (1565,4630) .. (ssrc.south -| 1537,0);
\draw[memb] (ainfo.north -| 1216,0) -- (route.south -| 1276,0);
\end{pgfonlayer}

% ---------------- labels ----------------
\node[lbl,anchor=west] (l01) at (2694,259) {< int32\_t >};
\node[lbl] (l02) at (2178,1274) {< InstanceList, MIN\\\_TREE\_SIZE >};
\node[lbl,anchor=west] (l03) at (2432,1272) {< double >};
\node[lbl] (l04) at (3115,2016) {< RenderBackend >};
\node[lbl,anchor=west] (l05) at (3406,2016) {< SoundManager >};
\node[lbl,anchor=west] (l06) at (3022,2670) {< SoundClip >};
\node[lbl,anchor=west] (l07) at (2470,454) {\#m\_nodes\\\#m\_parent};
\node[lbl] (l08) at (2301,656) {\#m\_root\\\#m\_cursor};
\node[lbl] (l09) at (2403,960) {\#m\_root\\\#m\_cursor};
\node[lbl,anchor=west] (l10) at (2805,1270) {\#m\_screenMode};
\node[lbl,anchor=west] (l11) at (2938,1270) {\#m\_guiClip};
\node[lbl,anchor=east] (l12) at (2885,657) {+r};
\node[lbl,anchor=west] (l13) at (3110,1270) {\#m\_loader};
\node[lbl,anchor=west] (l14) at (3193,2016) {-m\_decoder};
\node[lbl,anchor=west] (l15) at (1388,1272) {-m\_velocity};
\node[lbl] (l16) at (2368,1272) {+velocity\\+direction\\+position};
\node[lbl,anchor=west] (l17) at (1152,1272) {+m\_rotationAnchor};
\node[lbl,anchor=west] (l18) at (1744,1584) {-m\_master};
\node[lbl,anchor=west] (l19) at (2676,2016) {-m\_size};
\node[lbl,anchor=west] (l20) at (2806,2016) {-m\_instance};
\node[lbl,anchor=west] (l21) at (512,2017) {-m\_visual};
\node[lbl,anchor=west] (l22) at (1250,2014) {-m\_audio};
\node[lbl,anchor=west] (l23) at (1500,3182) {-m\_audio};
\node[lbl,anchor=west] (l24) at (1700,2012) {-m\_timeProvider};
\node[lbl,anchor=west] (l25) at (2110,2016) {-m\_tree};
\node[lbl] (l26) at (2268,2016) {\#m\_inverse\_matrix\\\#m\_matrix};
\node[lbl,anchor=west] (l27) at (2360,2016) {-m\_renderBackend};
\node[lbl,anchor=west] (l28) at (2625,2670) {-m\_internData};
\node[lbl,anchor=west] (l29) at (3136,2670) {-m\_ptr};
\node[lbl,anchor=west] (l30) at (3292,2670) {-m\_instance};
\node[lbl,anchor=west] (l31) at (3440,2670) {-m\_effectManager};
\node[lbl,anchor=west] (l32) at (3040,3182) {-m\_soundClip};
\node[lbl,anchor=west] (l33) at (3170,3182) {-m\_manager};
\node[lbl,anchor=west] (l34) at (3362,3182) {-m\_directFilter};
\node[lbl] (l35) at (2350,3860) {-m\_emitter};
\node[lbl,anchor=west] (l36) at (1650,2651) {-m\_map};
\node[lbl,anchor=west] (l37) at (1731,2651) {-m\_triggerController};
\node[lbl,anchor=west] (l38) at (1999,2651) {\#m\_map};
\node[lbl,anchor=west] (l39) at (2224,2651) {\#m\_instanceTree};
\node[lbl,anchor=west] (l40) at (2356,2651) {\#m\_grid};
\node[lbl,anchor=west] (l41) at (2312,3182) {-m\_layer};
\node[lbl,anchor=west] (l42) at (2383,3182) {\#m\_cellCache};
\node[lbl,anchor=west] (l43) at (1886,3182) {-m\_cellListener};
\node[lbl,anchor=west] (l44) at (2116,3182) {-m\_cellZoneListener};
\node[lbl,anchor=west] (l45) at (2043,3190) {-m\_layer};
\node[lbl,anchor=west] (l46) at (836,3183) {-m\_basicProperty};
\node[lbl,anchor=west] (l47) at (963,3183) {-m\_moveProperty};
\node[lbl,anchor=west] (l48) at (929,3442) {-m\_inherited};
\node[lbl,anchor=west] (l49) at (625,2706) {-m\_multiProperty};
\node[lbl,anchor=west] (l50) at (488,2706) {-m\_visual};
\node[lbl,anchor=west] (l51) at (1112,2706) {+m\_pather};
\node[lbl,anchor=west] (l52) at (895,2706) {+m\_defaultAction};
\node[lbl,anchor=west] (l53) at (1262,3139) {-m\_exact\_layer\_coords};
\node[lbl,anchor=west] (l54) at (355,2936) {-m\_visual};
\node[lbl,anchor=west] (l55) at (770,3670) {-m\_object};
\node[lbl,anchor=west] (l56) at (905,3690) {-m\_location};
\node[lbl,anchor=west] (l57) at (1040,3700) {-m\_object};
\node[lbl] (l58) at (1340,3700) {-m\_startNode\\-m\_endNode};
\node[lbl,anchor=west] (l59) at (858,4030) {-m\_mainMultiInstance};
\node[lbl,anchor=west] (l60) at (303,4350) {-m\_instance};
\node[lbl,anchor=west] (l61) at (818,4500) {-m\_activity};
\node[lbl,anchor=west] (l62) at (808,4350) {+m\_leader};
\node[lbl,anchor=west] (l63) at (1144,4349) {-m\_instance};
\node[lbl,anchor=west] (l64) at (1172,4030) {+m\_target};
\node[lbl] (l65) at (1032,4350) {+m\_oldLocation\\+m\_location};
\node[lbl,anchor=west] (l66) at (1079,3442) {+m\_pather};
\node[lbl,anchor=east] (l67) at (406,3442) {+m\_timeProvider};
\node[lbl,anchor=west] (l68) at (430,3690) {+m\_action};
\node[lbl,anchor=west] (l69) at (967,4644) {+m\_sayInfo};
\node[lbl,anchor=west] (l70) at (1068,4644) {+m\_actionInfo};
\node[lbl,anchor=west] (l71) at (1243,4644) {+m\_soundSource};
\node[lbl,anchor=west] (l72) at (1489,4644) {-m\_listener};
\node[lbl,anchor=west] (l73) at (1571,4644) {-m\_source};
\node[lbl,anchor=west] (l74) at (1240,4349) {+m\_route};
\end{tikzpicture}
\end{document}
